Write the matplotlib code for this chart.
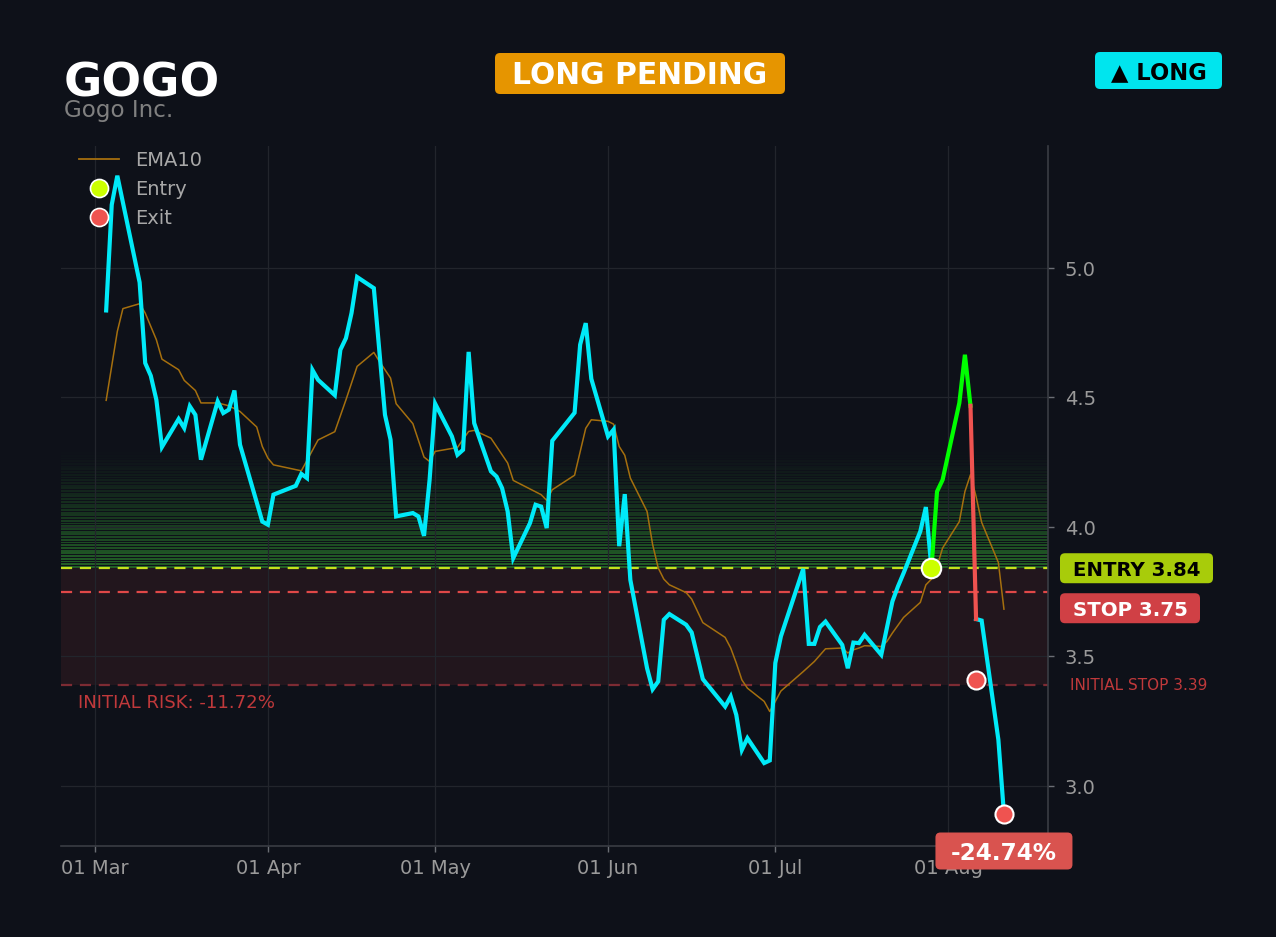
import matplotlib
matplotlib.use("Agg")
import matplotlib.pyplot as plt
import matplotlib.dates as mdates
from matplotlib.patches import FancyBboxPatch
from matplotlib.transforms import IdentityTransform
from matplotlib.lines import Line2D
import pandas as pd
import numpy as np

# ---------------- data ----------------
YEAR = "2026"
TICKER = "GOGO"
COMPANY = "Gogo Inc."

price_dates = ["03-03", "03-04", "03-05", "03-09", "03-10", "03-11", "03-12", "03-13",
               "03-16", "03-17", "03-18", "03-19", "03-20", "03-23", "03-24", "03-25",
               "03-26", "03-27", "03-31", "04-01", "04-02", "04-06", "04-07", "04-08",
               "04-09", "04-10", "04-13", "04-14", "04-15", "04-16", "04-17", "04-20",
               "04-22", "04-23", "04-24", "04-27", "04-28", "04-29", "04-30", "05-01",
               "05-04", "05-05", "05-06", "05-07", "05-08", "05-11", "05-12", "05-13",
               "05-14", "05-15", "05-18", "05-19", "05-20", "05-21", "05-22", "05-26",
               "05-27", "05-28", "05-29", "06-01", "06-02", "06-03", "06-04", "06-05",
               "06-08", "06-09", "06-10", "06-11", "06-12", "06-15", "06-16", "06-18",
               "06-22", "06-23", "06-24", "06-25", "06-26", "06-29", "06-30", "07-01",
               "07-02", "07-06", "07-07", "07-08", "07-09", "07-10", "07-13", "07-14",
               "07-15", "07-16", "07-17", "07-20", "07-21", "07-22", "07-23", "07-24",
               "07-27", "07-28", "07-29", "07-30", "07-31", "08-03", "08-04", "08-05",
               "08-06", "08-07", "08-10", "08-11"]
price_values = [4.835, 5.243, 5.355, 4.943, 4.632, 4.583, 4.490, 4.308,
                4.416, 4.381, 4.465, 4.432, 4.259, 4.484, 4.439, 4.452,
                4.526, 4.317, 4.020, 4.008, 4.124, 4.158, 4.204, 4.188,
                4.605, 4.567, 4.508, 4.683, 4.728, 4.825, 4.964, 4.921,
                4.432, 4.336, 4.040, 4.053, 4.040, 3.965, 4.181, 4.475,
                4.349, 4.278, 4.297, 4.675, 4.400, 4.214, 4.194, 4.149,
                4.059, 3.879, 4.014, 4.085, 4.078, 3.995, 4.332, 4.440,
                4.703, 4.786, 4.571, 4.349, 4.375, 3.925, 4.126, 3.795,
                3.454, 3.373, 3.403, 3.641, 3.663, 3.622, 3.592, 3.412,
                3.306, 3.345, 3.274, 3.139, 3.184, 3.088, 3.098, 3.474,
                3.577, 3.837, 3.548, 3.548, 3.613, 3.634, 3.544, 3.454,
                3.553, 3.551, 3.583, 3.506, 3.609, 3.712, 3.770, 3.821,
                3.982, 4.076, 3.840, 4.136, 4.181, 4.478, 4.664, 4.467,
                3.644, 3.638, 3.178, 2.892]

ema_dates = ["03-03", "03-05", "03-06", "03-09", "03-10", "03-12", "03-13", "03-16",
             "03-17", "03-19", "03-20", "03-23", "03-25", "03-27", "03-30", "03-31",
             "04-01", "04-02", "04-07", "04-10", "04-13", "04-15", "04-17", "04-20",
             "04-21", "04-23", "04-24", "04-27", "04-29", "04-30", "05-01", "05-05",
             "05-07", "05-08", "05-11", "05-14", "05-15", "05-20", "05-21", "05-22",
             "05-26", "05-28", "05-29", "06-01", "06-02", "06-03", "06-04", "06-05",
             "06-08", "06-09", "06-10", "06-11", "06-12", "06-15", "06-16", "06-18",
             "06-22", "06-23", "06-24", "06-25", "06-26", "06-29", "06-30", "07-01",
             "07-02", "07-06", "07-08", "07-10", "07-13", "07-14", "07-15", "07-16",
             "07-17", "07-20", "07-21", "07-22", "07-24", "07-27", "07-28", "07-29",
             "07-30", "07-31", "08-03", "08-04", "08-05", "08-06", "08-07", "08-10",
             "08-11"]
ema_values = [4.488, 4.754, 4.842, 4.861, 4.825, 4.722, 4.647, 4.606,
              4.565, 4.526, 4.478, 4.478, 4.467, 4.445, 4.385, 4.310,
              4.265, 4.239, 4.216, 4.335, 4.367, 4.490, 4.619, 4.673,
              4.638, 4.574, 4.475, 4.398, 4.269, 4.252, 4.291, 4.306,
              4.368, 4.372, 4.342, 4.246, 4.179, 4.124, 4.102, 4.143,
              4.199, 4.380, 4.413, 4.407, 4.396, 4.310, 4.276, 4.188,
              4.059, 3.931, 3.841, 3.798, 3.776, 3.746, 3.721, 3.630,
              3.573, 3.532, 3.474, 3.409, 3.377, 3.326, 3.287, 3.326,
              3.366, 3.441, 3.480, 3.529, 3.532, 3.513, 3.525, 3.532,
              3.541, 3.538, 3.557, 3.590, 3.650, 3.708, 3.776, 3.798,
              3.847, 3.918, 4.020, 4.136, 4.201, 4.117, 4.017, 3.862,
              3.682]

entry_date = "07-29"
entry_price = 3.84
peak_exit_date = "08-05"     # end of winning (green) leg
stop_hit_date = "08-06"      # end of red leg
stop_price = 3.75
initial_stop = 3.39
initial_risk_pct = -11.72
exit_dates = ["08-06", "08-11"]
exit_values = [3.41, 2.89]
result_pct = -24.74
status_text = "LONG PENDING"
side_text = "\u25B2 LONG"
y_ticks = [3.0, 3.5, 4.0, 4.5, 5.0]

# ---------------- helpers ----------------
def to_dt(md):
    return pd.Timestamp(f"{YEAR}-{md}")

px = pd.Series(price_values, index=pd.DatetimeIndex([to_dt(d) for d in price_dates]))
ema = pd.Series(ema_values, index=pd.DatetimeIndex([to_dt(d) for d in ema_dates]))
t_entry, t_peak, t_stop = to_dt(entry_date), to_dt(peak_exit_date), to_dt(stop_hit_date)

W, H = 1276, 937
BG = "#0e1119"
fig = plt.figure(figsize=(W / 100, H / 100 + 0.004), dpi=100, facecolor=BG)
ax = fig.add_axes([61 / W, 91 / H, 987 / W, 700 / H], facecolor=BG)

# x / y range
x0 = pd.Timestamp(f"{YEAR}-03-01") - pd.Timedelta(days=6.1)
x1 = pd.Timestamp(f"{YEAR}-03-01") + pd.Timedelta(days=170.9)
ax.set_xlim(x0, x1)
ax.set_ylim(2.768, 5.471)

# zones
ax.axhspan(initial_stop, entry_price, facecolor="#22161d", edgecolor="none", zorder=0.5)
n_bands = 44
top_zone = 4.30
h = (top_zone - entry_price) / n_bands
for i in range(n_bands):
    yb = entry_price + i * h
    a = 0.62 * (1 - i / n_bands) ** 1.3
    ax.axhspan(yb + h * 0.15, yb + h * 0.85, facecolor="#2f8f2f", alpha=a,
               edgecolor="none", zorder=0.6)

# level lines
ax.axhline(entry_price, color="#c6e01c", lw=1.6, ls=(0, (5, 3.5)), zorder=2)
ax.axhline(stop_price, color="#e04848", lw=1.6, ls=(0, (5, 3.5)), zorder=2)
ax.axhline(initial_stop, color="#7d2b33", lw=1.6, ls=(0, (5, 3.5)), zorder=2)

# EMA
ax.plot(ema.index, ema.values, color="#a56f0e", lw=1.1, zorder=3)

# price segments
pre = px[px.index <= t_entry]
win = px[(px.index >= t_entry) & (px.index <= t_peak)]
lose = px[(px.index >= t_peak) & (px.index <= t_stop)]
post = px[px.index >= t_stop]
ax.plot(pre.index, pre.values, color="#00eaf8", lw=3, zorder=4, solid_joinstyle="miter")
ax.plot(post.index, post.values, color="#00eaf8", lw=3, zorder=4, solid_joinstyle="miter")
ax.plot(win.index, win.values, color="#00ff00", lw=3, zorder=4, solid_joinstyle="miter")
ax.plot(lose.index, lose.values, color="#ef5350", lw=3, zorder=4, solid_joinstyle="miter")

# markers
ax.plot([t_entry], [entry_price], "o", ms=14, mfc="#ccff00", mec="white", mew=1.5, zorder=6)
ax.plot([to_dt(d) for d in exit_dates], exit_values, "o", ls="none", ms=13,
        mfc="#ef5350", mec="white", mew=1.5, zorder=6)

# axes styling
ax.yaxis.tick_right()
ax.set_yticks(y_ticks)
ax.yaxis.set_major_formatter(matplotlib.ticker.FormatStrFormatter("%.1f"))
ax.xaxis.set_major_locator(mdates.MonthLocator())
ax.xaxis.set_major_formatter(mdates.DateFormatter("%d %b"))
ax.tick_params(axis="both", colors="#6a6d74", labelcolor="#9a9a9a", labelsize=14,
               length=4, width=1)
ax.tick_params(axis="x", pad=5)
ax.tick_params(axis="y", pad=8)
for s in ["left", "top"]:
    ax.spines[s].set_visible(False)
for s in ["right", "bottom"]:
    ax.spines[s].set_color("#3a3d44")
    ax.spines[s].set_linewidth(1.2)
ax.grid(True, color="#22252c", lw=0.9)

# legend
handles = [
    Line2D([], [], color="#a56f0e", lw=1.3),
    Line2D([], [], marker="o", ls="none", ms=13, mfc="#ccff00", mec="white", mew=1.2),
    Line2D([], [], marker="o", ls="none", ms=13, mfc="#ef5350", mec="white", mew=1.2),
]
leg = ax.legend(handles, ["EMA10", "Entry", "Exit"], loc="upper left",
                bbox_to_anchor=(0.0, 1.018), frameon=False, fontsize=14,
                labelcolor="#a8a8a8", labelspacing=0.52, handlelength=2.1,
                handletextpad=0.8)

# ---------------- badges & texts ----------------
def badge(cx, cy, w, hgt, text, fc, tc, size, r=5):
    p = FancyBboxPatch((cx - w / 2, cy - hgt / 2), w, hgt,
                       boxstyle=f"round,pad=0,rounding_size={r}", fc=fc, ec="none",
                       transform=IdentityTransform(), figure=fig, zorder=10)
    fig.patches.append(p)
    cap = 0.73 * size * 100 / 72
    fig.text(cx / W, (cy - cap / 2) / H, text, ha="center", va="baseline",
             color=tc, fontsize=size, fontweight="bold", zorder=11)

fig.text(64 / W, 1 - 96 / H, TICKER, color="white", fontsize=33.6, fontweight="bold",
         ha="left", va="baseline")
fig.text(64 / W, 1 - 116.5 / H, COMPANY, color="#808080", fontsize=16.6,
         ha="left", va="baseline")

badge(640, H - 73.5, 290, 41, status_text, "#e69500", "white", 21.4)
badge(1158.5, H - 70.5, 127, 37, side_text, "#00e5ee", "black", 16.3)

# right-side level labels
entry_px_y = ax.transData.transform((mdates.date2num(t_entry), entry_price))[1]
badge(1136.5, entry_px_y, 153, 30, f"ENTRY {entry_price:.2f}", "#a8cc0a", "black", 14.2)
badge(1130, entry_px_y - 40, 140, 30, f"STOP {stop_price:.2f}", "#d04045", "white", 14.2)
ist_y = ax.transData.transform((0, initial_stop))[1]
fig.text(1070 / W, (ist_y - 5) / H, f"INITIAL STOP {initial_stop:.2f}", color="#c0393b",
         fontsize=11, ha="left", va="baseline")
fig.text(78 / W, (ist_y - 23) / H, f"INITIAL RISK: {initial_risk_pct:.2f}%",
         color="#c0393b", fontsize=13.1, ha="left", va="baseline")

# result badge under last exit
last_x = ax.transData.transform((mdates.date2num(to_dt(exit_dates[-1])), 0))[0]
badge(last_x, H - 851, 137, 37, f"{result_pct:.2f}%", "#d9534f", "white", 16.7)

fig.savefig("out.png", dpi=100, facecolor=BG)
